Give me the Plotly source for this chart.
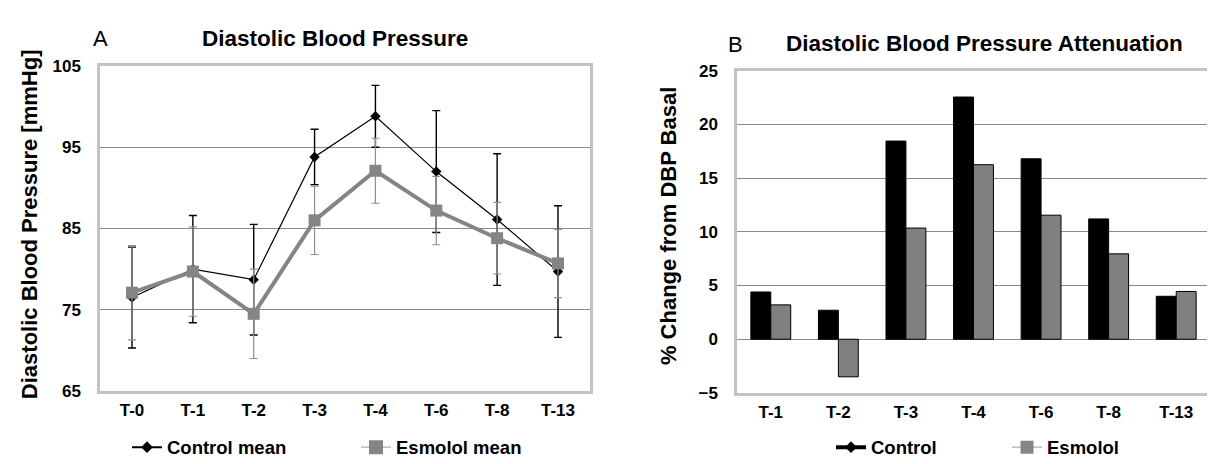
import plotly.graph_objects as go

# ---------------- data ----------------
time_points_a = ["T-0", "T-1", "T-2", "T-3", "T-4", "T-6", "T-8", "T-13"]
control_mean = [76.5, 80.0, 78.7, 93.8, 98.8, 92.0, 86.1, 79.7]
control_sd = [6.2, 6.6, 6.8, 3.4, 3.8, 7.5, 8.1, 8.1]
esmolol_mean = [77.1, 79.7, 74.5, 86.0, 92.1, 87.2, 83.8, 80.7]
esmolol_sd = [5.8, 5.5, 5.5, 4.2, 4.0, 4.2, 4.4, 4.2]

time_points_b = ["T-1", "T-2", "T-3", "T-4", "T-6", "T-8", "T-13"]
control_change = [4.4, 2.7, 18.45, 22.55, 16.8, 11.2, 4.0]
esmolol_change = [3.2, -3.5, 10.35, 16.25, 11.55, 7.95, 4.45]

y_ticks_a = [65, 75, 85, 95, 105]
y_ticks_b = [-5, 0, 5, 10, 15, 20, 25]

W, H = 1215, 464
SANS = "Liberation Sans, Arial, sans-serif"
GRAY = "#858585"
GRID = "#8a8a8a"
BORDER = "#c3c3c3"

def px_x(x):
    return x / W

def px_y(y):
    return 1 - y / H

fig = go.Figure()

# ---------------- panel A ----------------
fig.add_trace(go.Scatter(
    x=time_points_a, y=control_mean, name="Control mean",
    mode="lines+markers", xaxis="x", yaxis="y", showlegend=False,
    line=dict(color="black", width=1.2),
    marker=dict(symbol="diamond", size=8, color="black"),
    error_y=dict(type="data", array=control_sd, visible=True,
                 color="black", thickness=1.4, width=4),
))
fig.add_trace(go.Scatter(
    x=time_points_a, y=esmolol_mean, name="Esmolol mean",
    mode="lines+markers", xaxis="x", yaxis="y", showlegend=False,
    line=dict(color=GRAY, width=4),
    marker=dict(symbol="square", size=12, color=GRAY),
    error_y=dict(type="data", array=esmolol_sd, visible=True,
                 color="#8f8f8f", thickness=1.2, width=4),
))
# legend-only entries (panel A)
fig.add_trace(go.Scatter(
    x=[None], y=[None], name="Control mean", mode="lines+markers",
    xaxis="x", yaxis="y", legend="legend",
    line=dict(color="black", width=2),
    marker=dict(symbol="diamond", size=9, color="black"),
))
fig.add_trace(go.Scatter(
    x=[None], y=[None], name="Esmolol mean", mode="lines+markers",
    xaxis="x", yaxis="y", legend="legend",
    line=dict(color="#9a9a9a", width=1),
    marker=dict(symbol="square", size=14, color=GRAY),
))

# ---------------- panel B ----------------
fig.add_trace(go.Bar(
    x=time_points_b, y=control_change, name="Control",
    xaxis="x2", yaxis="y2", showlegend=False,
    marker=dict(color="black", line=dict(color="black", width=1)),
))
fig.add_trace(go.Bar(
    x=time_points_b, y=esmolol_change, name="Esmolol",
    xaxis="x2", yaxis="y2", showlegend=False,
    marker=dict(color="#808080", line=dict(color="black", width=1)),
))
fig.add_trace(go.Scatter(
    x=[None], y=[None], name="Control", mode="lines+markers",
    xaxis="x2", yaxis="y2", legend="legend2",
    line=dict(color="black", width=4),
    marker=dict(symbol="diamond", size=9, color="black"),
))
fig.add_trace(go.Scatter(
    x=[None], y=[None], name="Esmolol", mode="lines+markers",
    xaxis="x2", yaxis="y2", legend="legend2",
    line=dict(color="#9a9a9a", width=1),
    marker=dict(symbol="square", size=13, color=GRAY),
))

tick_font = dict(family=SANS, size=17, color="black", weight="bold")
legend_font = dict(family=SANS, size=18.5, color="black", weight="bold")

axis_common = dict(
    showline=True, mirror=True, linecolor=BORDER, linewidth=2.5,
    ticks="", tickfont=tick_font, zeroline=False, fixedrange=True,
)

def note(text, x, y, size, angle=0):
    return dict(text=text, x=px_x(x), y=px_y(y), xref="paper", yref="paper",
                xanchor="center", yanchor="middle", showarrow=False,
                textangle=angle, font=dict(family=SANS, size=size, color="black"))

fig.update_layout(
    width=W, height=H,
    margin=dict(l=0, r=0, t=0, b=0),
    paper_bgcolor="white", plot_bgcolor="white",
    barmode="group", bargap=0.41, bargroupgap=0,
    xaxis=dict(domain=[px_x(92), px_x(582)], anchor="y",
               showgrid=False, ticklabelstandoff=2, **axis_common),
    yaxis=dict(domain=[px_y(390), px_y(51)], anchor="x", range=[65, 105],
               tickvals=y_ticks_a, showgrid=True, gridcolor=GRID, gridwidth=1.2,
               ticklabelstandoff=13, **axis_common),
    xaxis2=dict(domain=[px_x(729), px_x(1202)], anchor="y2",
                showgrid=False, ticklabelstandoff=2, **axis_common),
    yaxis2=dict(domain=[px_y(392), px_y(56)], anchor="x2", range=[-5, 25],
                tickvals=y_ticks_b, showgrid=True, gridcolor=GRID, gridwidth=1.2,
                ticklabelstandoff=13, **axis_common),
    legend=dict(orientation="h", x=px_x(119), y=px_y(449), xanchor="left",
                yanchor="middle", font=legend_font, entrywidth=184,
                bgcolor="rgba(0,0,0,0)", itemwidth=30),
    legend2=dict(orientation="h", x=px_x(823), y=px_y(449), xanchor="left",
                 yanchor="middle", font=legend_font, entrywidth=131,
                 bgcolor="rgba(0,0,0,0)", itemwidth=30),
    annotations=[
        note("A", 92, 22, 22),
        note("<b>Diastolic Blood Pressure</b>", 327, 22, 22.5),
        note("B", 727, 29, 22),
        note("<b>Diastolic Blood Pressure Attenuation</b>", 976, 28, 22.5),
        note("<b>Diastolic Blood Pressure [mmHg]</b>", 21, 216, 22, -90),
        note("<b>% Change from DBP Basal</b>", 660, 218, 22, -90),
    ],
)

fig.write_html("out.html")
